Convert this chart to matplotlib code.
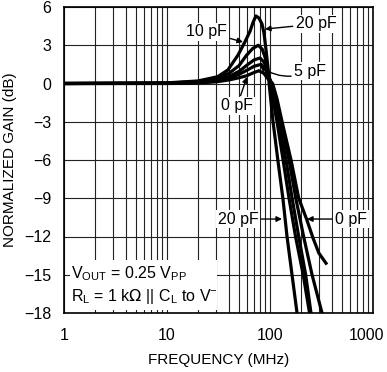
import matplotlib
matplotlib.use("Agg")
import matplotlib.pyplot as plt
from matplotlib.patches import Rectangle
from matplotlib.transforms import ScaledTranslation

plt.rcParams['font.family'] = ['Liberation Sans', 'DejaVu Sans']

# frequency (MHz) and normalized gain (dB), one curve per load capacitance
f_20pf = [1, 10, 20, 31, 39, 49, 57, 64, 68.5, 73, 78, 83.6, 87.4, 91.5, 95.7, 98, 107, 119.6, 133.8, 146.3, 163.6, 183, 188]
g_20pf = [0, 0.05, 0.2, 0.53, 1.06, 2.24, 3.25, 4.1, 4.8, 5.3, 5.14, 4.67, 3.96, 2.63, 1.2, 0.0, -3.0, -6.1, -9.1, -12.0, -15.0, -18.0, -18.5]

f_15pf = [1, 10, 20, 30, 40, 50, 59, 68, 77, 84, 90, 95, 100, 108, 117, 134, 153, 177, 210, 242, 248]
g_15pf = [0, 0.03, 0.15, 0.4, 0.8, 1.4, 2.2, 2.75, 3.0, 2.7, 2.0, 1.1, 0.0, -1.5, -3.0, -6.0, -9.0, -12.0, -15.0, -18.0, -18.5]

f_10pf = [1, 10, 20, 30, 40, 50, 60, 70, 80, 88, 95, 102, 110, 122, 143, 164, 190, 222, 250, 256]
g_10pf = [0, 0.02, 0.1, 0.28, 0.55, 0.95, 1.45, 1.85, 2.0, 1.65, 0.9, 0.0, -1.3, -3.0, -6.0, -9.0, -12.0, -15.0, -18.0, -18.5]

f_5pf = [1, 10, 20, 30, 40, 50, 60, 70, 82, 90, 97, 104, 113, 128, 153, 178, 212, 256, 320, 330]
g_5pf = [0, 0.01, 0.07, 0.2, 0.42, 0.72, 1.05, 1.35, 1.5, 1.15, 0.55, 0.0, -1.3, -3.0, -6.0, -9.0, -12.0, -15.0, -18.0, -18.4]

f_0pf = [1, 10, 20, 30, 40, 50, 59, 68, 78, 87, 96, 106, 117, 131, 160, 190, 228, 261, 298, 357]
g_0pf = [0, 0.0, 0.04, 0.13, 0.28, 0.45, 0.6, 0.82, 1.0, 0.8, 0.35, 0.0, -1.2, -3.0, -6.0, -9.0, -10.7, -12.1, -13.3, -14.2]

y_ticks = [6, 3, 0, -3, -6, -9, -12, -15, -18]
x_ticks = [1, 10, 100, 1000]
x_tick_labels = ['1', '10', '100', '1000']

fig = plt.figure(figsize=(3.87, 3.72), dpi=100)
ax = fig.add_axes([64 / 387, 59 / 372, 309 / 387, 306 / 372])

for f, g in [(f_0pf, g_0pf), (f_5pf, g_5pf), (f_10pf, g_10pf), (f_15pf, g_15pf), (f_20pf, g_20pf)]:
    ax.plot(f, g, color='black', lw=2.3, solid_capstyle='butt', zorder=3)

ax.set_xscale('log')
ax.set_xlim(1, 1000)
ax.set_ylim(-18, 6)
ax.set_xticks(x_ticks)
ax.set_xticklabels(x_tick_labels)
ax.set_yticks(y_ticks)
ax.set_axisbelow(True)
ax.grid(True, which='both', color='#222222', lw=0.8)
ax.tick_params(which='both', length=0, labelsize=11.5, colors='black')
ax.tick_params(axis='y', pad=9)
ax.tick_params(axis='x', pad=11)
for s in ax.spines.values():
    s.set_linewidth(1.2)
    s.set_zorder(4)

# keep the last tick label inside the figure
last = ax.get_xticklabels()[-1]
last.set_transform(last.get_transform() + ScaledTranslation(-0.07, 0, fig.dpi_scale_trans))

ax.set_xlabel('FREQUENCY (MHz)', fontsize=11, labelpad=7)
ax.set_ylabel('NORMALIZED GAIN (dB)', fontsize=11, labelpad=5)

# white box behind the conditions text
ax.add_patch(Rectangle((1.14, -17.8), 30.6 - 1.14, 3.95, facecolor='white',
                       edgecolor='none', zorder=2))
ax.text(1.17, -14.95, r'$\mathregular{V_{OUT}}$ = 0.25 $\mathregular{V_{PP}}$',
        fontsize=11.5, va='center', ha='left', zorder=5)
ax.text(1.17, -16.7, r'$\mathregular{R_L}$ = 1 k$\Omega$ || $\mathregular{C_L}$ to $\mathregular{V^{-}}$',
        fontsize=11.5, va='center', ha='left', zorder=5)

lbl = dict(fontsize=11.5, ha='center', va='center', zorder=5,
           bbox=dict(boxstyle='square,pad=0.1', facecolor='white', edgecolor='none'))
arw = dict(arrowstyle='-|>', color='black', lw=1.0, mutation_scale=8, shrinkA=1, shrinkB=0)

ax.annotate('10 pF', xy=(54.7, 3.25), xytext=(24.4, 4.04), arrowprops=arw, **lbl)
ax.annotate('20 pF', xy=(89.4, 4.27), xytext=(280, 4.67), arrowprops=arw, **lbl)
ax.annotate('5 pF', xy=(80, 1.37), xytext=(245, 0.98),
            arrowprops=dict(arw, connectionstyle='arc3,rad=-0.3'), **lbl)
ax.annotate('0 pF', xy=(59.8, 0.51), xytext=(47.8, -1.76), arrowprops=arw, **lbl)
ax.annotate('20 pF', xy=(130.8, -10.63), xytext=(48.9, -10.63), arrowprops=arw, **lbl)
ax.annotate('0 pF', xy=(228.7, -10.63), xytext=(611, -10.63), arrowprops=arw, **lbl)

fig.savefig('out.png', dpi=100)
